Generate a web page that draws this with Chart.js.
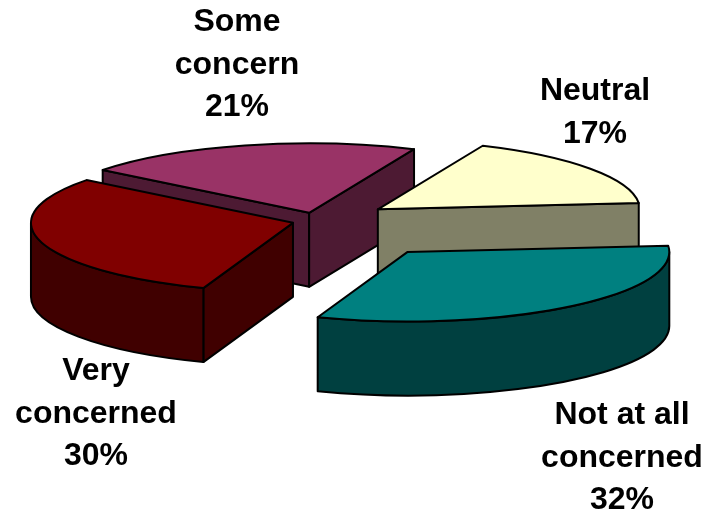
<!DOCTYPE html>
<html>
<head>
<meta charset="utf-8">
<title>Level of concern</title>
<style>
	html, body { margin: 0; padding: 0; background: #fff; }
	canvas { display: block; }
</style>
<script src="https://cdn.jsdelivr.net/npm/chart.js@4"></script>
</head>
<body>
<canvas id="chart" width="706" height="514"></canvas>
<script>
// Exploded 3D pie: the arcs come from Chart.js, the plugin below only tilts and extrudes them
const categories = ['Very concerned', 'Some concern', 'Neutral', 'Not at all concerned']
const labelLines = [['Very', 'concerned'], ['Some', 'concern'], ['Neutral'], ['Not at all', 'concerned']]
const values = [30, 21, 17, 32]
const topColors = ['#800000', '#993366', '#ffffcc', '#008080']
const sideColors = ['#400000', '#4d1a33', '#808066', '#004040']
const explode = [25, 32, 75, 148]
const labelCenters = [[96, 380], [237, 31], [595, 100], [622, 424]]

const TILT = 0.265
const DEPTH = 74
const LINE_HEIGHT = 42.5
const TWO_PI = Math.PI * 2

function face(ctx, color, build){
	ctx.beginPath()
	build()
	ctx.closePath()
	ctx.fillStyle = color
	ctx.fill()
	ctx.stroke()
}

function drawSlice(ctx, arc, i){
	const p = arc.getProps(['x', 'y', 'startAngle', 'endAngle', 'outerRadius'])
	const r = p.outerRadius
	const ry = r * TILT
	const mid = (p.startAngle + p.endAngle) / 2
	const x = p.x + Math.cos(mid) * arc.options.offset
	const y = p.y + Math.sin(mid) * arc.options.offset * TILT
	const a = p.startAngle
	const b = p.endAngle
	const rim = t => [x + Math.cos(t) * r, y + Math.sin(t) * ry]
	const wall = t => face(ctx, sideColors[i], () => {
		const e = rim(t)
		ctx.moveTo(x, y); ctx.lineTo(e[0], e[1])
		ctx.lineTo(e[0], e[1] + DEPTH); ctx.lineTo(x, y + DEPTH)
	})
	// only the walls turned towards the viewer
	if(Math.cos(a) < 0) wall(a)
	if(Math.cos(b) > 0) wall(b)
	// outer band, front half of the ellipse only
	for(let k = -1; k < 3; k++){
		const from = Math.max(a, k * TWO_PI)
		const to = Math.min(b, k * TWO_PI + Math.PI)
		if(from >= to) continue
		face(ctx, sideColors[i], () => {
			ctx.ellipse(x, y, r, ry, 0, from, to)
			ctx.ellipse(x, y + DEPTH, r, ry, 0, to, from, true)
		})
	}
	face(ctx, topColors[i], () => {
		ctx.moveTo(x, y)
		ctx.ellipse(x, y, r, ry, 0, a, b)
	})
}

const tiltedPie = {
	id: 'tiltedPie',
	beforeDatasetDraw(chart, args){
		const ctx = chart.ctx
		const arcs = args.meta.data
		const order = arcs.map((_, i) => i).sort((m, n) => {
			const s = e => Math.sin((e.startAngle + e.endAngle) / 2)
			return s(arcs[m]) - s(arcs[n])
		})
		ctx.save()
		ctx.strokeStyle = '#000'
		ctx.lineWidth = 2
		ctx.lineJoin = 'round'
		order.forEach(i => drawSlice(ctx, arcs[i], i))
		ctx.restore()
		return false
	},
	afterDraw(chart){
		const ctx = chart.ctx
		ctx.save()
		ctx.fillStyle = '#000'
		ctx.font = 'bold 32px "Liberation Sans", Arial, sans-serif'
		ctx.textAlign = 'center'
		ctx.textBaseline = 'alphabetic'
		labelLines.forEach((lines, i) => {
			const c = labelCenters[i]
			lines.concat(values[i] + '%').forEach((t, n) => ctx.fillText(t, c[0], c[1] + n * LINE_HEIGHT))
		})
		ctx.restore()
	}
}

new Chart(document.getElementById('chart').getContext('2d'), {
	type: 'pie',
	data: {
		labels: categories,
		datasets: [{ data: values, backgroundColor: topColors, offset: explode, borderWidth: 0 }]
	},
	options: {
		responsive: false,
		animation: false,
		rotation: 200,
		radius: 262,
		layout: { padding: { right: 72, bottom: 72 } },
		plugins: { legend: { display: false }, tooltip: { enabled: false } }
	},
	plugins: [tiltedPie]
})
</script>
</body>
</html>
